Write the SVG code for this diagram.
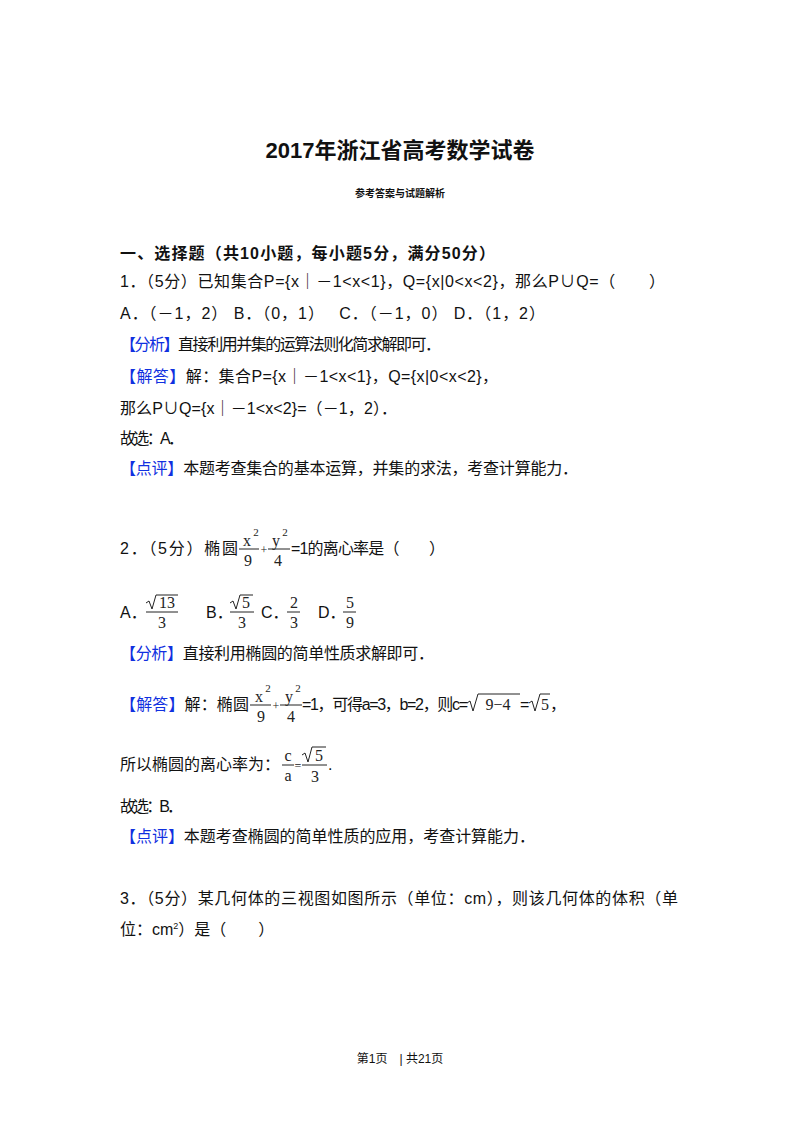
<svg xmlns="http://www.w3.org/2000/svg" width="800" height="1132" viewBox="0 0 800 1132">
<style>
.t{font-family:"Liberation Sans","Noto Sans CJK SC",sans-serif;font-size:16px;fill:#111}
.b{font-weight:bold}
.bl{fill:#1030e0}
.m{font-family:"Liberation Serif","DejaVu Serif",serif;font-size:16px;fill:#222;text-anchor:middle}
.s{font-size:11px}
.ln{stroke:#222;stroke-width:1;fill:none}
</style>
<rect width="800" height="1132" fill="#fff"/>
<text class="t b" x="400" y="158" text-anchor="middle" style="font-size:22px">2017年浙江省高考数学试卷</text>
<text class="t b" x="400" y="197" text-anchor="middle" style="font-size:10px">参考答案与试题解析</text>
<text class="t b" x="120" y="259" textLength="375">一、选择题（共10小题，每小题5分，满分50分）</text>
<text class="t" x="120" y="287" textLength="545">1．（5分）已知集合P={x｜－1&lt;x&lt;1}，Q={x|0&lt;x&lt;2}，那么P∪Q=（　　）</text>
<text class="t" x="120" y="319" textLength="425">A．（－1，2） B．（0，1）　 C．（－1，0） D．（1，2）</text>
<text class="t" x="120" y="350" textLength="321"><tspan class="bl">【分析】</tspan>直接利用并集的运算法则化简求解即可．</text>
<text class="t" x="120" y="382" textLength="378"><tspan class="bl">【解答】</tspan>解：集合P={x｜－1&lt;x&lt;1}，Q={x|0&lt;x&lt;2}，</text>
<text class="t" x="120" y="414" textLength="277">那么P∪Q={x｜－1&lt;x&lt;2}=（－1，2）．</text>
<text class="t" x="120" y="444" textLength="64">故选：A．</text>
<text class="t" x="120" y="474" textLength="458"><tspan class="bl">【点评】</tspan>本题考查集合的基本运算，并集的求法，考查计算能力．</text>

<text class="t" x="120" y="554" textLength="118">2．（5分）椭圆</text>
<g id="q2frac">
<text class="m" x="247" y="546">x</text><text class="m s" x="256" y="536">2</text>
<line class="ln" x1="239" y1="549" x2="259" y2="549"/>
<text class="m" x="248" y="566">9</text>
<text class="m" x="264" y="554" style="font-size:12px">+</text>
<text class="m" x="276" y="546">y</text><text class="m s" x="285" y="536">2</text>
<line class="ln" x1="268" y1="549" x2="290" y2="549"/>
<text class="m" x="278" y="566">4</text>
</g>
<text class="t" x="291" y="554" textLength="154">=1的离心率是（　　）</text>

<g id="opts2">
<text class="t" x="120" y="618">A．</text>
<path class="ln" d="M146 603 L149 601 L152 609 L156 595 L178 595"/>
<text class="m" x="167" y="608">13</text>
<line class="ln" x1="146" y1="612" x2="178" y2="612"/>
<text class="m" x="162" y="628">3</text>
<text class="t" x="206" y="618">B．</text>
<path class="ln" d="M230 603 L233 601 L236 609 L240 595 L253 595"/>
<text class="m" x="246" y="608">5</text>
<line class="ln" x1="230" y1="612" x2="254" y2="612"/>
<text class="m" x="242" y="628">3</text>
<text class="t" x="261" y="618">C．</text>
<text class="m" x="294" y="608">2</text>
<line class="ln" x1="287" y1="612" x2="300" y2="612"/>
<text class="m" x="294" y="628">3</text>
<text class="t" x="318" y="618">D．</text>
<text class="m" x="350" y="608">5</text>
<line class="ln" x1="343" y1="612" x2="356" y2="612"/>
<text class="m" x="350" y="628">9</text>
</g>

<text class="t" x="120" y="659" textLength="314"><tspan class="bl">【分析】</tspan>直接利用椭圆的简单性质求解即可．</text>

<text class="t" x="120" y="710" textLength="129"><tspan class="bl">【解答】</tspan>解：椭圆</text>
<g id="sol2frac">
<text class="m" x="259" y="702">x</text><text class="m s" x="268" y="692">2</text>
<line class="ln" x1="250" y1="705" x2="271" y2="705"/>
<text class="m" x="261" y="722">9</text>
<text class="m" x="276" y="710" style="font-size:12px">+</text>
<text class="m" x="289" y="702">y</text><text class="m s" x="298" y="692">2</text>
<line class="ln" x1="280" y1="705" x2="302" y2="705"/>
<text class="m" x="291" y="722">4</text>
</g>
<text class="t" x="302" y="710" textLength="166">=1，可得a=3，b=2，则c=</text>
<path class="ln" d="M467 703 L470 701 L473 711 L478 694 L520 694"/>
<text class="m" x="498" y="710">9−4</text>
<text class="t" x="520" y="710">=</text>
<path class="ln" d="M529 703 L532 701 L535 711 L540 694 L550 694"/>
<text class="m" x="545" y="710">5</text>
<text class="t" x="550" y="710">，</text>

<text class="t" x="120" y="770" textLength="160">所以椭圆的离心率为：</text>
<text class="m" x="288" y="761">c</text>
<line class="ln" x1="282" y1="765" x2="294" y2="765"/>
<text class="m" x="288" y="781">a</text>
<text class="m" x="298" y="770" style="font-size:12px">=</text>
<path class="ln" d="M302 755 L305 753 L308 762 L312 747 L326 747"/>
<text class="m" x="319" y="761">5</text>
<line class="ln" x1="302" y1="765" x2="327" y2="765"/>
<text class="m" x="315" y="782">3</text>
<text class="t" x="328" y="770">.</text>

<text class="t" x="120" y="812" textLength="63">故选：B．</text>
<text class="t" x="120" y="842" textLength="415"><tspan class="bl">【点评】</tspan>本题考查椭圆的简单性质的应用，考查计算能力．</text>

<text class="t" x="120" y="904" textLength="558">3．（5分）某几何体的三视图如图所示（单位：cm），则该几何体的体积（单</text>
<text class="t" x="120" y="935">位：cm<tspan style="font-size:9px" dy="-6">2</tspan><tspan dy="6">）是（　　）</tspan></text>

<text class="t" x="400" y="1063" text-anchor="middle" style="font-size:12px">第1页　| 共21页</text>
</svg>
